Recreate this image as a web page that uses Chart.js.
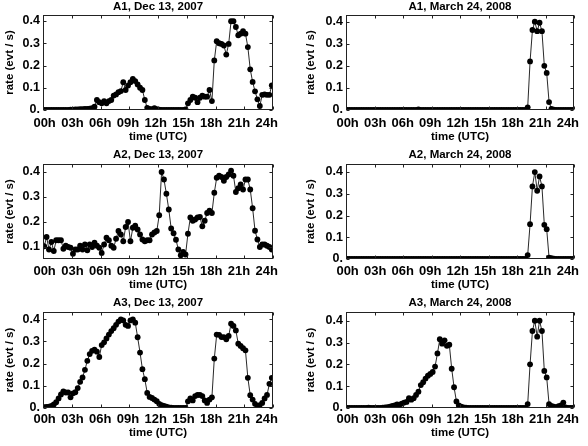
<!DOCTYPE html>
<html><head><meta charset="utf-8">
<script src="https://cdn.jsdelivr.net/npm/chart.js@4/dist/chart.umd.min.js"></script>
<style>
html,body{margin:0;padding:0;background:#fff;}
#wrap{position:relative;width:588px;height:446px;overflow:hidden;background:#fff;}
.p{position:absolute;width:294px;height:148px;}
canvas{display:block;}
</style></head><body><div id="wrap">
<div class="p" style="left:0;top:0"><canvas id="c0" width="294" height="148"></canvas></div>
<div class="p" style="left:294px;top:0"><canvas id="c1" width="294" height="148"></canvas></div>
<div class="p" style="left:0;top:148px"><canvas id="c2" width="294" height="148"></canvas></div>
<div class="p" style="left:294px;top:148px"><canvas id="c3" width="294" height="148"></canvas></div>
<div class="p" style="left:0;top:296px"><canvas id="c4" width="294" height="148"></canvas></div>
<div class="p" style="left:294px;top:296px"><canvas id="c5" width="294" height="148"></canvas></div>
</div>
<script>
// ---- data ----
// time bins (hours, UTC): 15-minute bin centres
const hours = Array.from({length: 96}, (_, i) => 0.125 + 0.25 * i);
const xTickHours = [0, 3, 6, 9, 12, 15, 18, 21, 24];
const xTickLabels = ['00h', '03h', '06h', '09h', '12h', '15h', '18h', '21h', '24h'];
const yTickValues = [0, 0.1, 0.2, 0.3, 0.4];
const yTickLabels = ['0.', '0.1', '0.2', '0.3', '0.4'];
const panelTitles = ['A1, Dec 13, 2007', 'A1, March 24, 2008', 'A2, Dec 13, 2007',
                     'A2, March 24, 2008', 'A3, Dec 13, 2007', 'A3, March 24, 2008'];
const xTitle = 'time (UTC)';
const yTitle = 'rate (evt / s)';

const a1Dec = [
  0,0,0,0,0,0,0,0,0.001,0.001,0.001,0.002,
  0.002,0.003,0.003,0.004,0.004,0.005,0.005,0.006,0.008,0.015,0.045,0.035,
  0.03,0.04,0.03,0.04,0.045,0.065,0.07,0.08,0.085,0.125,0.09,0.11,
  0.125,0.14,0.13,0.115,0.10,0.09,0.045,0.01,0.005,0.004,0.008,0.004,
  0.002,0.001,0,0,0,0,0,0,0,0,0.001,0.003,
  0.03,0.045,0.06,0.055,0.035,0.055,0.065,0.06,0.06,0.09,0.04,0.223,
  0.309,0.30,0.297,0.29,0.249,0.297,0.399,0.399,0.373,0.336,0.343,0.354,
  0.343,0.283,0.183,0.126,0.084,0.048,0.018,0.068,0.07,0.068,0.068,0.111
];
const a1Mar = [
  0,0,0,0,0,0,0,0,0,0,0,0,
  0,0,0,0,0,0,0,0,0,0,0,0,
  0,0,0,0,0,0,0.003,0,0,0,0,0,
  0,0,0,0,0,0,0,0,0,0,0,0,
  0,0,0,0,0,0,0,0,0,0,0,0,
  0,0,0,0,0,0,0,0,0,0,0,0,
  0,0,0,0,0.012,0.22,0.362,0.40,0.357,0.395,0.357,0.20,
  0.168,0.036,0.005,0.002,0.001,0.001,0.001,0.001,0.001,0.001,0.001,0.001
];
const a2Dec = [
  0.103,0.14,0.09,0.12,0.084,0.127,0.127,0.127,0.093,0.105,0.10,0.097,
  0.073,0.09,0.09,0.105,0.09,0.11,0.087,0.11,0.10,0.117,0.105,0.097,
  0.076,0.11,0.137,0.127,0.105,0.097,0.133,0.164,0.15,0.123,0.18,0.20,
  0.123,0.177,0.185,0.17,0.15,0.13,0.123,0.127,0.127,0.15,0.158,0.164,
  0.227,0.40,0.37,0.313,0.25,0.174,0.155,0.129,0.09,0.067,0.08,0.07,
  0.153,0.218,0.205,0.21,0.218,0.22,0.183,0.205,0.236,0.245,0.236,0.317,
  0.377,0.385,0.38,0.365,0.38,0.39,0.405,0.385,0.32,0.335,0.35,0.33,
  0.37,0.37,0.33,0.255,0.165,0.13,0.10,0.11,0.11,0.105,0.10,0.09
];
const a2Mar = [
  0,0,0,0,0,0,0,0,0,0,0,0,
  0,0,0,0,0,0,0,0,0,0,0,0,
  0,0,0,0,0,0,0,0,0,0,0,0,
  0,0,0,0,0,0,0,0,0,0,0,0,
  0,0,0,0,0,0,0,0,0,0,0,0,
  0,0,0,0,0,0,0,0,0,0,0,0,
  0,0,0,0,0.018,0.16,0.334,0.40,0.314,0.38,0.334,0.157,
  0.137,0.006,0.004,0.002,0,0,0,0,0,0,0,0
];
const a3Dec = [
  0.004,0.005,0.006,0.009,0.016,0.026,0.043,0.061,0.075,0.07,0.07,0.048,
  0.066,0.071,0.09,0.118,0.138,0.172,0.213,0.243,0.258,0.263,0.254,0.23,
  0.284,0.296,0.314,0.331,0.347,0.36,0.375,0.39,0.40,0.395,0.375,0.37,
  0.395,0.40,0.385,0.319,0.25,0.175,0.13,0.068,0.05,0.045,0.038,0.031,
  0.019,0.013,0.009,0.006,0.003,0.002,0.001,0.001,0.001,0.001,0.001,0.001,
  0.03,0.043,0.034,0.054,0.059,0.059,0.054,0.034,0.023,0.038,0.048,0.223,
  0.331,0.33,0.32,0.32,0.31,0.325,0.38,0.37,0.35,0.29,0.28,0.27,
  0.26,0.136,0.058,0.038,0.019,0.009,0.013,0.023,0.043,0.059,0.109,0.136
];
const a3Mar = [
  0,0,0,0,0,0,0,0,0,0.002,0.001,0,
  0,0.001,0.001,0.002,0.003,0.004,0.006,0.01,0.012,0.016,0.015,0.02,
  0.025,0.028,0.045,0.038,0.045,0.06,0.075,0.105,0.118,0.135,0.148,0.156,
  0.165,0.19,0.25,0.315,0.295,0.31,0.285,0.29,0.18,0.095,0.03,0.012,
  0.006,0.003,0.002,0,0,0,0,0,0,0,0,0,
  0,0,0,0,0,0,0,0,0,0,0,0,
  0,0,0,0,0.018,0.20,0.353,0.40,0.327,0.40,0.353,0.17,
  0.14,0.018,0.01,0.006,0.004,0.008,0.012,0.025,0.003,0,0,0
];
// y axis ranges of each panel
const yMin = [0, 0, 0.052, 0, 0, 0];
const yMax = [0.427, 0.43, 0.432, 0.437, 0.433, 0.44];
const seriesList = [a1Dec, a1Mar, a2Dec, a2Mar, a3Dec, a3Mar];

// ---- drawing ----
const FONT = '"Liberation Sans", Arial, Helvetica, sans-serif';
const W = 294, H = 148;

const framePlugin = {
  id: 'frame',
  afterDatasetsDraw(chart) {
    const {ctx, chartArea: a, scales} = chart;
    ctx.save();
    ctx.strokeStyle = '#222';
    ctx.lineWidth = 1;
    const l = Math.round(a.left) + 0.5, t = Math.round(a.top) + 0.5;
    const r = Math.round(a.right) - 0.5, b = Math.round(a.bottom) - 0.5;
    ctx.strokeRect(l, t, r - l, b - t);
    ctx.beginPath();
    xTickHours.forEach(h => {
      const px = Math.round(scales.x.getPixelForValue(h)) + 0.5;
      ctx.moveTo(px, b); ctx.lineTo(px, b - 3);
      ctx.moveTo(px, t); ctx.lineTo(px, t + 3);
    });
    yTickValues.forEach(v => {
      if (v < scales.y.min) return;
      const py = Math.round(scales.y.getPixelForValue(v)) + 0.5;
      ctx.moveTo(l, py); ctx.lineTo(l + 3, py);
      ctx.moveTo(r, py); ctx.lineTo(r - 3, py);
    });
    ctx.stroke();
    ctx.restore();
  }
};

function makeChart(idx) {
  const col = idx % 2, row = Math.floor(idx / 2);
  const L = col === 0 ? 43 : 52;
  const R = col === 0 ? 273 : 280;
  const T = [15, 16, 16][row];
  const B = [110, 111, 112][row];
  const series = seriesList[idx];
  const titleFont = {family: FONT, size: 11.5, weight: 'bold', lineHeight: 1.2};
  return new Chart(document.getElementById('c' + idx), {
    type: 'line',
    data: {
      datasets: [{
        data: hours.map((h, i) => ({x: h, y: series[i]})),
        borderColor: '#111',
        borderWidth: 0.9,
        pointRadius: 2.9,
        pointHoverRadius: 2.9,
        pointBackgroundColor: '#000',
        pointBorderWidth: 0,
        tension: 0,
        clip: 0,
        xAxisID: 'x',
        yAxisID: 'y'
      }]
    },
    options: {
      responsive: false,
      animation: false,
      events: [],
      layout: {padding: {left: 0, right: W - R, top: 0, bottom: 0}},
      plugins: {
        legend: {display: false},
        tooltip: {enabled: false},
        title: {
          display: true, text: panelTitles[idx], color: '#000', fullSize: false,
          font: titleFont, padding: {top: 0, bottom: T - 13.8}
        }
      },
      scales: {
        x: {type: 'linear', display: false, min: 0, max: 24},
        xl: {
          type: 'linear', axis: 'x', position: 'bottom', min: -0.174, max: 24.67,
          afterBuildTicks: s => { s.ticks = xTickHours.map(v => ({value: v})); },
          afterFit: s => { s.height = H - B; },
          grid: {display: false, drawTicks: false},
          border: {display: false},
          ticks: {
            color: '#000', font: {family: FONT, size: 13, weight: 'bold'},
            padding: 5.5 - (B - 110), maxRotation: 0, autoSkip: false,
            callback: v => xTickLabels[xTickHours.indexOf(v)]
          },
          title: {display: true, text: xTitle, color: '#000', font: titleFont, padding: {top: 0, bottom: 4.4}}
        },
        y: {
          type: 'linear', position: 'left', min: yMin[idx], max: yMax[idx],
          afterBuildTicks: s => { s.ticks = yTickValues.filter(v => v >= s.min).map(v => ({value: v})); },
          afterFit: s => { s.width = L; },
          grid: {display: false, drawTicks: false},
          border: {display: false},
          ticks: {
            color: '#000', font: {family: FONT, size: 12.5, weight: 'bold'}, padding: 3,
            callback: v => yTickLabels[yTickValues.indexOf(v)]
          },
          title: {display: true, text: yTitle, color: '#000', font: titleFont,
                  padding: {top: col === 0 ? 3.1 : 9.8, bottom: 0}}
        }
      }
    },
    plugins: [framePlugin]
  });
}
for (let i = 0; i < 6; i++) makeChart(i);
</script>
</body></html>
